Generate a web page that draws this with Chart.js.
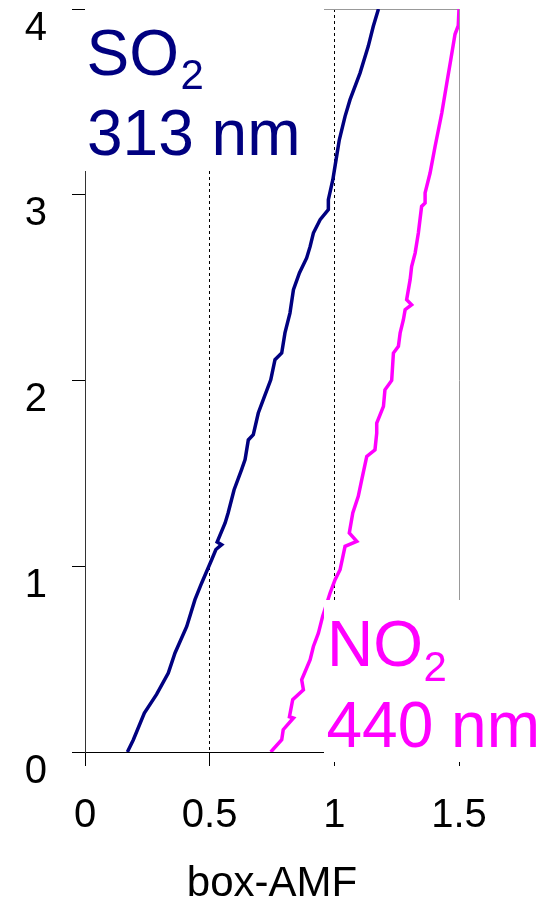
<!DOCTYPE html>
<html>
<head>
<meta charset="utf-8">
<title>box-AMF profiles</title>
<script src="https://cdn.jsdelivr.net/npm/chart.js@4/dist/chart.umd.min.js"></script>
<style>
  html, body { margin: 0; padding: 0; background: #fff; }
  #wrap { width: 545px; height: 899px; }
</style>
</head>
<body>
<div id="wrap"><canvas id="c" width="545" height="899"></canvas></div>
<script>
// Box air-mass factor profiles versus altitude (km)
const so2Alt = [0, 0.066, 0.21, 0.31, 0.425, 0.533, 0.676, 0.82, 0.91, 1.035, 1.09, 1.116, 1.13, 1.233, 1.287,
  1.412, 1.52, 1.574, 1.68, 1.708, 1.825, 1.897, 2.004, 2.112, 2.148, 2.256, 2.363, 2.489, 2.579, 2.66,
  2.722, 2.794, 2.866, 2.92, 2.974, 3.081, 3.189, 3.296, 3.422, 3.512, 3.655, 3.799, 3.906, 4.0];
const so2Amf = [0.170, 0.194, 0.238, 0.287, 0.334, 0.361, 0.408, 0.441, 0.468, 0.508, 0.525, 0.548, 0.530, 0.562, 0.574,
  0.598, 0.628, 0.642, 0.655, 0.675, 0.695, 0.715, 0.745, 0.762, 0.789, 0.802, 0.822, 0.836, 0.860, 0.889,
  0.903, 0.916, 0.943, 0.976, 0.976, 0.994, 1.007, 1.020, 1.043, 1.063, 1.103, 1.136, 1.156, 1.177];

const no2Alt = [0, 0.066, 0.12, 0.183, 0.19, 0.282, 0.335, 0.389, 0.497, 0.568, 0.64, 0.73, 0.856, 0.928, 0.981,
  1.107, 1.134, 1.179, 1.287, 1.376, 1.466, 1.591, 1.627, 1.717, 1.771, 1.861, 1.95, 2.0, 2.148, 2.184,
  2.256, 2.327, 2.381, 2.408, 2.435, 2.543, 2.614, 2.686, 2.794, 2.937, 2.955, 3.01, 3.117, 3.26, 3.44,
  3.6, 3.727, 3.864, 3.91, 4.0];
const no2Amf = [0.745, 0.789, 0.795, 0.836, 0.820, 0.833, 0.876, 0.869, 0.903, 0.916, 0.936, 0.953, 0.983, 1.003, 1.023,
  1.043, 1.090, 1.060, 1.074, 1.096, 1.110, 1.130, 1.163, 1.170, 1.170, 1.197, 1.203, 1.230, 1.237, 1.257,
  1.264, 1.277, 1.284, 1.310, 1.290, 1.304, 1.310, 1.324, 1.337, 1.350, 1.364, 1.364, 1.384, 1.404, 1.431,
  1.451, 1.467, 1.484, 1.497, 1.5];

const xRange = [0, 1.5];
const yRange = [0, 4];
const xStep = 0.5;
const yStep = 1;
const dashedAmf = [0.5, 1];

const FONT = "'Liberation Sans', Arial, sans-serif";
const SO2_COLOR = '#000080';
const NO2_COLOR = '#ff00ff';
const FRAME_GRAY = '#999999';

function toPoints(xs, ys) {
  return xs.map((x, i) => ({ x: x, y: ys[i] }));
}

// Species labels sit on white panels painted over the plot corners
const speciesLabels = {
  id: 'speciesLabels',
  afterDraw(chart) {
    const ctx = chart.ctx;
    ctx.save();
    ctx.fillStyle = '#ffffff';
    ctx.fillRect(85, 0, 239, 171);
    ctx.fillRect(324, 600, 221, 162);

    ctx.textBaseline = 'alphabetic';
    ctx.textAlign = 'left';

    ctx.fillStyle = SO2_COLOR;
    ctx.font = '64px ' + FONT;
    ctx.fillText('SO', 86.5, 75);
    ctx.fillText('313 nm', 87, 155);
    ctx.font = '42px ' + FONT;
    ctx.fillText('2', 180.5, 88.5);

    ctx.fillStyle = NO2_COLOR;
    ctx.font = '64px ' + FONT;
    ctx.fillText('NO', 327, 666);
    ctx.fillText('440 nm', 326.5, 746.7);
    ctx.font = '42px ' + FONT;
    ctx.fillText('2', 423.5, 681);
    ctx.restore();
  }
};

new Chart(document.getElementById('c'), {
  type: 'scatter',
  data: {
    datasets: [
      {
        label: 'SO2 313 nm',
        data: toPoints(so2Amf, so2Alt),
        showLine: true,
        borderColor: SO2_COLOR,
        backgroundColor: SO2_COLOR,
        borderWidth: 3.5,
        pointRadius: 0,
        fill: false
      },
      {
        label: 'NO2 440 nm',
        data: toPoints(no2Amf, no2Alt),
        showLine: true,
        borderColor: NO2_COLOR,
        backgroundColor: NO2_COLOR,
        borderWidth: 3.5,
        pointRadius: 0,
        fill: false
      }
    ]
  },
  options: {
    responsive: false,
    animation: false,
    devicePixelRatio: 1,
    layout: { padding: { top: 9, right: 86, left: 0, bottom: 0 } },
    plugins: {
      legend: { display: false },
      tooltip: { enabled: false }
    },
    scales: {
      x: {
        type: 'linear',
        min: xRange[0],
        max: xRange[1],
        ticks: {
          stepSize: xStep,
          color: '#000',
          font: { family: FONT, size: 40 },
          padding: 26,
          maxRotation: 0,
          autoSkip: false,
          callback: (v) => String(v)
        },
        grid: {
          color: (c) => {
            if (!c.tick) return 'rgba(0,0,0,0)';
            if (dashedAmf.includes(c.tick.value)) return '#000';
            if (c.tick.value === xRange[1]) return FRAME_GRAY;
            return 'rgba(0,0,0,0)';
          },
          lineWidth: 1,
          tickColor: '#000',
          tickLength: 14
        },
        border: {
          color: '#000',
          width: 1,
          dash: (c) => (c.tick && dashedAmf.includes(c.tick.value)) ? [3, 3] : []
        },
        title: {
          display: true,
          text: 'box-AMF',
          color: '#000',
          font: { family: FONT, size: 42, lineHeight: 0.7 },
          padding: 0
        },
        afterFit: (s) => { s.height = 147; s.paddingLeft = 0; s.paddingRight = 0; }
      },
      y: {
        type: 'linear',
        min: yRange[0],
        max: yRange[1],
        ticks: {
          stepSize: yStep,
          color: '#000',
          font: { family: FONT, size: 40 },
          padding: 25,
          labelOffset: 19.5,
          autoSkip: false
        },
        grid: {
          color: (c) => (c.tick && c.tick.value === yRange[1]) ? FRAME_GRAY : 'rgba(0,0,0,0)',
          lineWidth: 1,
          tickColor: '#000',
          tickLength: 13
        },
        border: { color: '#333', width: 1 },
        afterFit: (s) => { s.width = 85; s.paddingTop = 0; s.paddingBottom = 0; }
      }
    }
  },
  plugins: [speciesLabels]
});
</script>
</body>
</html>
